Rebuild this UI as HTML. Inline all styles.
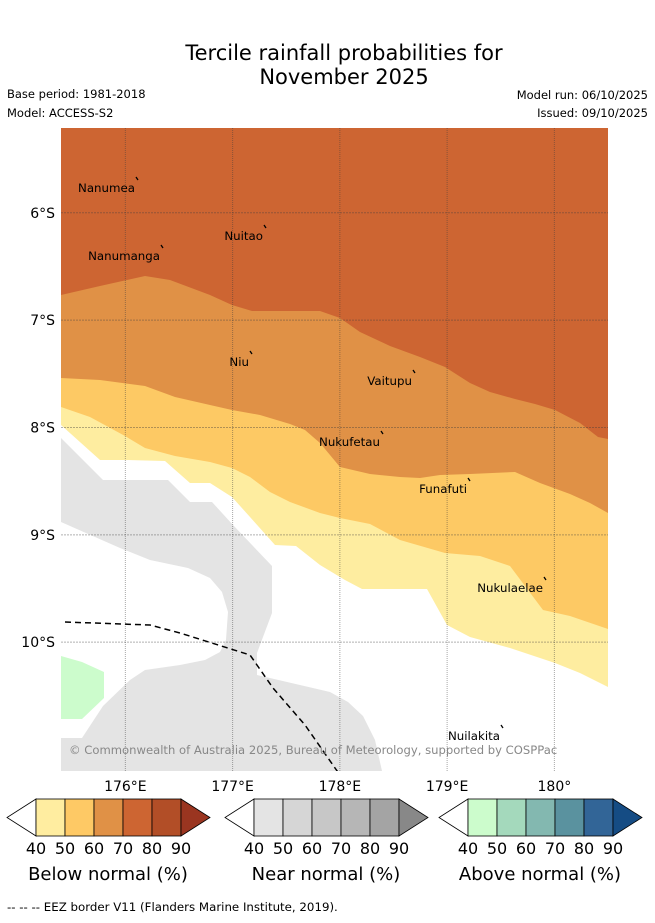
<!DOCTYPE html>
<html><head><meta charset="utf-8">
<style>
html,body{margin:0;padding:0;background:#fff;}
body{width:655px;height:919px;position:relative;overflow:hidden;font-family:"DejaVu Sans","Liberation Sans",sans-serif;}
svg text{font-family:"DejaVu Sans","Liberation Sans",sans-serif;}
</style></head>
<body>
<svg id="fig" width="655" height="919" viewBox="0 0 655 919" xmlns="http://www.w3.org/2000/svg">
<text x="344" y="60" font-size="21" text-anchor="middle">Tercile rainfall probabilities for</text>
<text x="344" y="84" font-size="21" text-anchor="middle">November 2025</text>
<text x="7" y="98" font-size="11.5">Base period: 1981-2018</text>
<text x="7" y="117" font-size="11.5">Model: ACCESS-S2</text>
<text x="648" y="99" font-size="11.5" text-anchor="end">Model run: 06/10/2025</text>
<text x="648" y="117" font-size="11.5" text-anchor="end">Issued: 09/10/2025</text>
<defs><clipPath id="mc"><rect x="61" y="128" width="547" height="643"/></clipPath></defs>
<g id="map" clip-path="url(#mc)"></g>
<g id="axes"></g>
<g id="cbars"></g>
<text x="7" y="911" font-size="11.8">--  --  -- EEZ border V11 (Flanders Marine Institute, 2019).</text>
</svg>
<script>
const lonMin = 175.4, lonMax = 180.5, latTop = -5.21, latBot = -11.2;
const pxL = 61, pxR = 608, pxT = 128, pxB = 771;
const lonTicks = [176, 177, 178, 179, 180];
const lonTickLabels = ['176°E', '177°E', '178°E', '179°E', '180°'];
const latTicks = [-6, -7, -8, -9, -10];
const latTickLabels = ['6°S', '7°S', '8°S', '9°S', '10°S'];
function X(lon){return pxL+(lon-lonMin)/(lonMax-lonMin)*(pxR-pxL);}
function Y(lat){return pxT+(latTop-lat)/(latTop-latBot)*(pxB-pxT);}
function XI(px){return lonMin+(px-pxL)/(pxR-pxL)*(lonMax-lonMin);}
function YI(py){return latTop-(py-pxT)/(pxB-pxT)*(latTop-latBot);}
const b70 = [[61,295],[100,286],[145,276],[170,280],[210,295],[232,305],[252,311],[320,311],[340,318],[360,332],[390,346],[420,357],[445,367],[470,383],[490,392],[515,399],[535,404],[555,410],[580,423],[598,437],[608,439]].map(p=>[XI(p[0]),YI(p[1])]);
const b60 = [[61,378],[100,380],[145,386],[175,397],[210,405],[232,410],[260,415],[290,424],[305,430],[320,443],[340,467],[370,474],[400,477],[420,478],[440,475],[470,474],[515,472],[540,483],[570,494],[590,503],[608,513]].map(p=>[XI(p[0]),YI(p[1])]);
const b50 = [[61,407],[90,417],[125,436],[145,448],[175,456],[210,462],[232,468],[250,477],[270,492],[290,502],[320,513],[340,518],[370,524],[400,540],[445,553],[480,556],[510,566],[543,610],[570,616],[608,629]].map(p=>[XI(p[0]),YI(p[1])]);
const b40 = [[61,425],[100,460],[125,460],[165,461],[190,483],[210,483],[232,497],[250,517],[275,545],[296,546],[320,565],[345,580],[362,589],[427,589],[447,625],[470,637],[510,648],[555,663],[580,673],[608,687]].map(p=>[XI(p[0]),YI(p[1])]);
const nearOuter = [[61,438],[103,480],[168,480],[190,502],[212,502],[233,525],[272,566],[272,613],[257,653],[257,675],[300,685],[330,692],[348,702],[363,716],[375,740],[382,771],[61,771]].map(p=>[XI(p[0]),YI(p[1])]);
const nearHole = [[61,522],[120,548],[150,560],[188,568],[210,578],[222,592],[228,612],[226,640],[220,652],[205,660],[180,665],[145,670],[130,680],[103,706],[82,738],[61,738]].map(p=>[XI(p[0]),YI(p[1])]);
const aboveRegion = [[61,656],[82,662],[104,672],[104,698],[82,719],[61,719]].map(p=>[XI(p[0]),YI(p[1])]);
const eez = [[65,622],[150,625],[180,633],[250,655],[273,688],[305,725],[335,768],[340,775]].map(p=>[XI(p[0]),YI(p[1])]);
const islandNames = ['Nanumea','Nuitao','Nanumanga','Niu','Vaitupu','Nukufetau','Funafuti','Nukulaelae','Nuilakita'];
const islandLon = [XI(136), XI(264), XI(161), XI(250), XI(413), XI(381), XI(468), XI(544), XI(501)];
const islandLat = [YI(177), YI(225), YI(245), YI(351), YI(370), YI(431), YI(478), YI(577), YI(725)];
const NS='http://www.w3.org/2000/svg';
function el(tag,attrs,parent){const e=document.createElementNS(NS,tag);for(const k in attrs)e.setAttribute(k,attrs[k]);parent.appendChild(e);return e;}
function pts(a){return a.map(p=>X(p[0]).toFixed(1)+','+Y(p[1]).toFixed(1)).join(' ');}
const map=document.getElementById('map');
let r=el('rect',{x:61,y:128,width:547,height:643,fill:'#fff'},map);

const order=[[b40,'#feeda0','below-40-50'],[b50,'#fdc964','below-50-60'],[b60,'#e09146','below-60-70'],[b70,'#cd6532','below-70-80']];
order.forEach(o=>{
  const poly=[[lonMin,latTop+0.1],[lonMax,latTop+0.1],...o[0].slice().reverse()];
  const p=el('polygon',{points:pts(poly),fill:o[1]},map);
  
  
});
function pathD(a){return 'M'+a.map(p=>X(p[0]).toFixed(1)+' '+Y(p[1]).toFixed(1)).join(' L')+' Z';}
let g=el('path',{d:pathD(nearOuter)+' '+pathD(nearHole),fill:'#e4e4e4','fill-rule':'evenodd'},map);

let a=el('polygon',{points:pts(aboveRegion),fill:'#ccfccc'},map);

lonTicks.forEach((lon,i)=>{
  const l=el('line',{x1:X(lon),x2:X(lon),y1:128,y2:771,stroke:'rgba(60,60,60,0.45)','stroke-width':1,'stroke-dasharray':'1,1'},map);
  
});
latTicks.forEach((lat,i)=>{
  const l=el('line',{x1:61,x2:608,y1:Y(lat),y2:Y(lat),stroke:'rgba(60,60,60,0.4)','stroke-width':1,'stroke-dasharray':'2,1'},map);
  
});
let e=el('polyline',{points:pts(eez),fill:'none',stroke:'#000','stroke-width':1.5,'stroke-dasharray':'6,4'},map);

islandNames.forEach((n,i)=>{
  const x=X(islandLon[i]),y=Y(islandLat[i]);
  const m=el('line',{x1:x,y1:y,x2:x+2,y2:y+3,stroke:'#000','stroke-width':1.3},map);
  
  
  const t=el('text',{x:x-1,y:y+15,'font-size':11.8,'text-anchor':'end',fill:'#000'},map);
  t.textContent=n;
  
  
});
let c=el('text',{x:69,y:754,'font-size':11.6,fill:'#888'},map);
c.textContent='© Commonwealth of Australia 2025, Bureau of Meteorology, supported by COSPPac';

const axes=document.getElementById('axes');
latTicks.forEach((lat,i)=>{
  const t=el('text',{x:55,y:Y(lat)+5,'font-size':14,'text-anchor':'end'},axes);
  t.textContent=latTickLabels[i];
  
  
});
lonTicks.forEach((lon,i)=>{
  const t=el('text',{x:X(lon),y:791,'font-size':14,'text-anchor':'middle'},axes);
  t.textContent=lonTickLabels[i];
  
  
});
const cbTitles=['Below normal (%)','Near normal (%)','Above normal (%)'];
const cbColors=[['#ffeda0','#fec965','#e09146','#cd6532','#b24e27','#9a3520'],
['#e4e4e4','#d6d6d6','#c7c7c7','#b6b6b6','#a4a4a4','#888888'],
['#ccfccc','#a4d9bc','#83b8b0','#5a929f','#326597','#154c84']];
const cbTicks=['40','50','60','70','80','90'];
const cbX=[36,254,468];
const cbs=document.getElementById('cbars');
cbX.forEach((x0,k)=>{
  const w=29,y0=799,h=37;
  const left=el('polygon',{points:`${x0},${y0} ${x0-29},${y0+h/2} ${x0},${y0+h}`,fill:'#fff',stroke:'#000','stroke-width':0.8},cbs);
  
  for(let i=0;i<5;i++){
    const rr=el('rect',{x:x0+i*w,y:y0,width:w,height:h,fill:cbColors[k][i],stroke:'#000','stroke-width':0.8},cbs);
    
    
  }
  const rt=el('polygon',{points:`${x0+5*w},${y0} ${x0+5*w+29},${y0+h/2} ${x0+5*w},${y0+h}`,fill:cbColors[k][5],stroke:'#000','stroke-width':0.8},cbs);
  
  cbTicks.forEach((t,i)=>{
    const tt=el('text',{x:x0+i*w,y:854,'font-size':16,'text-anchor':'middle'},cbs);
    tt.textContent=t;
    
    
  });
  const ti=el('text',{x:x0+72,y:880,'font-size':18,'text-anchor':'middle'},cbs);
  ti.textContent=cbTitles[k];
  
  
});
</script>
</body></html>
